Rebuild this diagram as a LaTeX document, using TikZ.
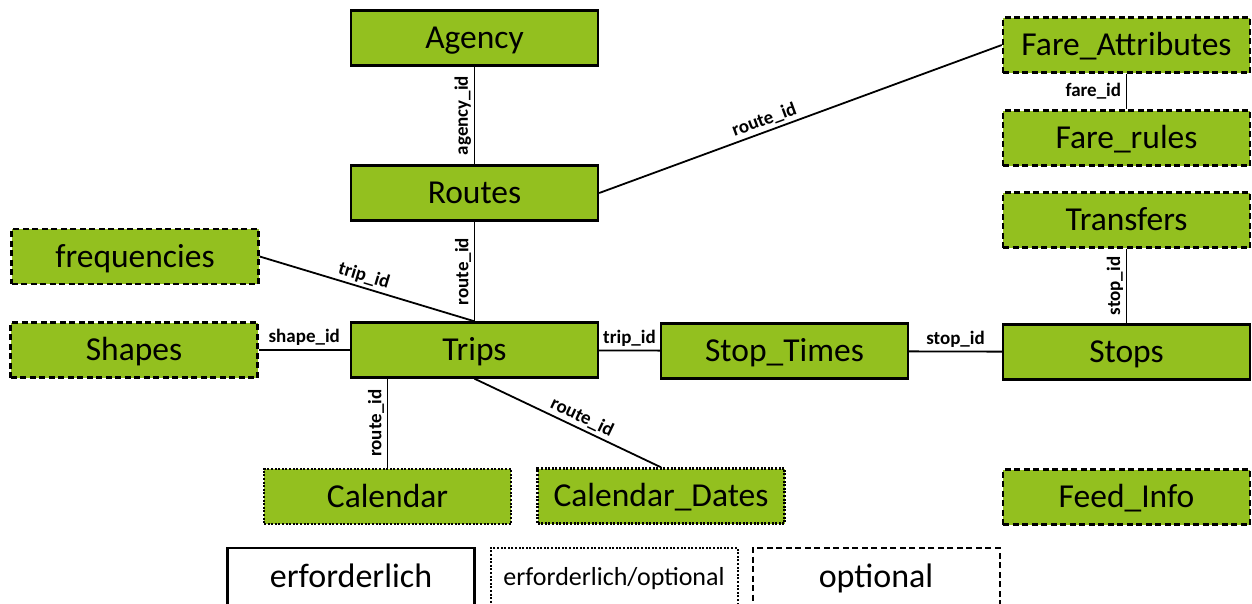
\documentclass[tikz,border=0pt]{standalone}
\usepackage{fontspec}
\setmainfont{Carlito}
\definecolor{gtfsgreen}{RGB}{147,192,31}
\tikzset{
  tbl/.style={draw=black, fill=gtfsgreen, line width=2.4pt, minimum width=247pt, minimum height=55pt,
    inner sep=0pt, font=\fontsize{33.5}{36}\selectfont, text height=23.2pt, text depth=1.6pt},
  req/.style={tbl},
  opt/.style={tbl, dash pattern=on 6pt off 3.5pt},
  reqopt/.style={tbl, dash pattern=on 2pt off 1.6pt},
  legend/.style={fill=white},
  link/.style={line width=1.8pt},
  lbl/.style={font=\bfseries\fontsize{19}{21}\selectfont, inner sep=2.5pt},
}
\begin{document}
\begin{tikzpicture}[x=1pt, y=-1pt]
\useasboundingbox (0,0) rectangle (1252,603);
\clip (0,0) rectangle (1252,603);
% tables
\node[req] (agency) at (474.5,38) {Agency};
\node[req] (routes) at (474.5,193) {Routes};
\node[req] (trips) at (474.5,350) {Trips};
\node[req] (stoptimes) at (784.5,351) {Stop\_Times};
\node[req] (stops) at (1126.5,352) {Stops};
\node[opt] (fareattr) at (1126.5,45) {Fare\_Attributes};
\node[opt] (farerules) at (1126.5,138) {Fare\_rules};
\node[opt] (transfers) at (1126.5,220) {Transfers};
\node[opt] (freq) at (135,256.5) {frequencies};
\node[opt] (shapes) at (134,350) {Shapes};
\node[opt] (feedinfo) at (1126.5,497) {Feed\_Info};
\node[reqopt] (calendar) at (387.5,496.5) {Calendar};
\node[reqopt] (caldates) at (661,496) {Calendar\_Dates};
% key fields
\draw[link] (agency) -- node[lbl, rotate=90, above] {agency\_id} (routes);
\draw[link] (routes) -- node[lbl, rotate=90, above] {route\_id} (trips);
\draw[link] (routes.east) -- node[lbl, sloped, above, pos=0.42] {route\_id} (fareattr.west);
\draw[link] (fareattr) -- node[lbl, left, xshift=-2pt] {fare\_id} (farerules);
\draw[link] (freq.east) -- node[lbl, sloped, above, pos=0.47] {trip\_id} (trips.north);
\draw[link] (shapes) -- node[lbl, above, yshift=1pt] {shape\_id} (trips);
\draw[link] (trips) -- node[lbl, above, yshift=1pt] {trip\_id} (stoptimes);
\draw[link] (stoptimes) -- node[lbl, above, yshift=1pt] {stop\_id} (stops);
\draw[link] (transfers) -- node[lbl, rotate=90, above] {stop\_id} (stops);
\draw[link] (calendar.north) -- node[lbl, rotate=90, above] {route\_id} (calendar.north |- trips.south);
\draw[link] (trips.south) -- node[lbl, sloped, above, pos=0.55] {route\_id} (caldates.north);
% legend
\node[req, legend, font=\fontsize{34}{37}\selectfont, minimum height=58pt] (lreq) at (351,577) {erforderlich};
\node[reqopt, legend, font=\fontsize{26}{29}\selectfont, text height=18pt, text depth=1.3pt, line width=2pt, minimum height=58pt] (lreqopt) at (614,577) {erforderlich/optional};
\node[opt, legend, font=\fontsize{34}{37}\selectfont, line width=2pt, minimum height=58pt] (lopt) at (876,577) {optional};
\end{tikzpicture}
\end{document}
